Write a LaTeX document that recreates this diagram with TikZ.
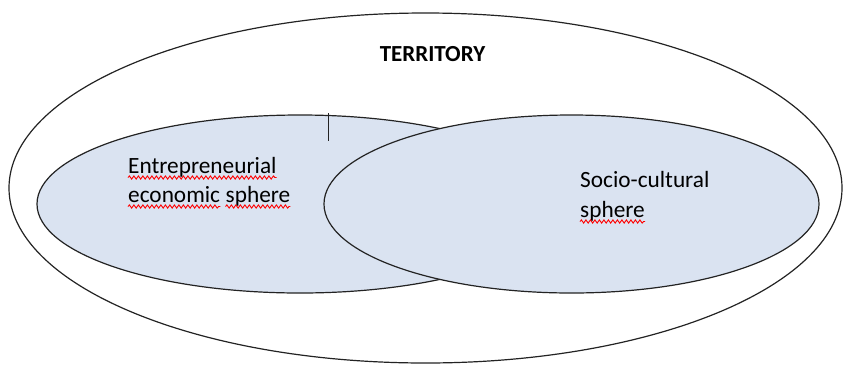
\documentclass[tikz,border=0pt]{standalone}
\usepackage{fontspec}
\setmainfont{Carlito}
\usetikzlibrary{shapes.geometric,decorations.pathmorphing}

\definecolor{spherefill}{RGB}{218,227,241}
\definecolor{rimgray}{RGB}{35,35,35}

\begin{document}
\begin{tikzpicture}[
	x=1pt, y=-1pt,
	rim/.style={
		draw=rimgray, line width=1.2pt,
		ellipse, inner sep=0pt
	},
	sphere/.style={
		rim, fill=spherefill
	},
	wordline/.style={
		font=\fontsize{23.3}{29}\selectfont,
		anchor=base west, inner sep=0pt
	},
	% red spell-check wave
	spellwave/.style={
		red, line width=0.9pt,
		decorate, decoration={snake, segment length=4.5pt, amplitude=1.6pt}
	}
	]
	\useasboundingbox (0,0) rectangle (843,365);
	
	\node[rim, minimum width=833pt, minimum height=350pt] (territory) at (425.5,188) {};
	\node[sphere, minimum width=526pt, minimum height=178pt] (econ) at (300,204) {};
	\node[sphere, minimum width=495pt, minimum height=178pt] (socio) at (571.5,204) {};
	
	\node[wordline, anchor=base, font=\fontsize{23}{29}\selectfont\bfseries] (title) at (432.5,61.5) {TERRITORY};
	
	\node[wordline] (econa) at (128,173) {Entrepreneurial};
	\node[wordline] (econb) at (128,202) {economic};
	\node[wordline] (econc) at ([xshift=5.2pt]econb.base east) {sphere};
	
	\node[wordline] (socioa) at (580,187) {Socio-cultural};
	\node[wordline] (sociob) at (580,217) {sphere};
	
	\draw[spellwave] ([yshift=-4.5pt]econa.base west) -- ([yshift=-4.5pt]econa.base east);
	\draw[spellwave] ([yshift=-4.5pt]econb.base west) -- ([yshift=-4.5pt]econb.base east);
	\draw[spellwave] ([yshift=-4.5pt]econc.base west) -- ([yshift=-4.5pt]econc.base east);
	\draw[spellwave] ([yshift=-4.5pt]sociob.base west) -- ([yshift=-4.5pt]sociob.base east);
	
	\draw[rimgray, line width=1.2pt] (328.5,113) -- (328.5,141);
	
\end{tikzpicture}
\end{document}
